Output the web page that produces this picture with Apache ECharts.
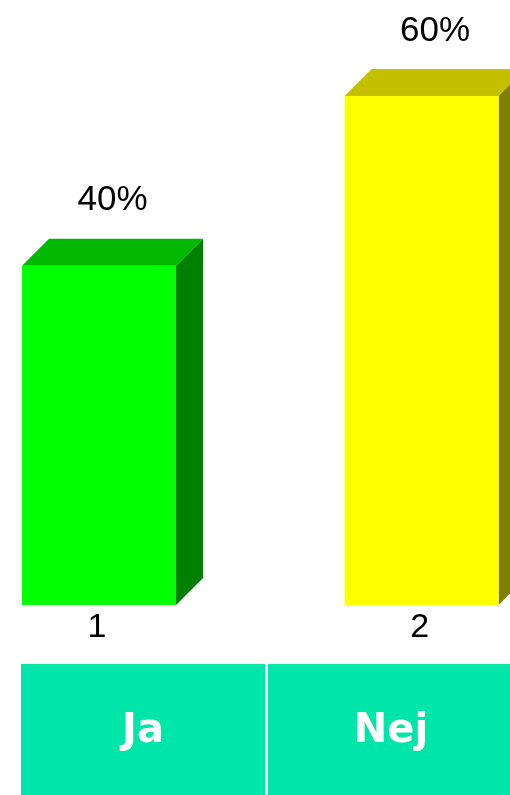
<!DOCTYPE html>
<html>
<head>
<meta charset="utf-8">
<script src="https://cdn.jsdelivr.net/npm/echarts@6/dist/echarts.min.js"></script>
<style>
  html, body { margin: 0; padding: 0; background: #fff; }
  #chart { width: 510px; height: 795px; }
</style>
</head>
<body>
<div id="chart"></div>
<script>
// data
var categories = ['1', '2'];
var values = [40, 60];
var valueLabels = ['40%', '60%'];
var tableLabels = ['Ja', 'Nej'];

// colours of the 3d faces, per bar
var frontColors = ['#00ff00', '#ffff00'];
var topColors = ['#00b800', '#c4c000'];
var sideColors = ['#008000', '#808000'];

var chart = echarts.init(document.getElementById('chart'));

var depth = 27;
var halfW = 77;
var labelFont = 'Liberation Sans, Arial, sans-serif';

var option = {
  backgroundColor: '#fff',
  animation: false,
  grid: { left: 0, right: 0, top: 96, bottom: 190 },
  // category index as a value axis, so the bars can sit off the plot edges
  xAxis: {
    type: 'value',
    min: -0.307,
    max: 1.274,
    show: false
  },
  yAxis: {
    type: 'value',
    min: 0,
    max: 60,
    show: false
  },
  series: [{
    type: 'custom',
    clip: false,
    data: values.map(function (v, i) { return [i, v]; }),
    renderItem: function (params, api) {
      var i = params.dataIndex;
      var c = api.coord([api.value(0), api.value(1)]);
      var b = api.coord([api.value(0), 0]);
      var x0 = c[0] - halfW, x1 = c[0] + halfW, yt = c[1], yb = b[1];
      return {
        type: 'group',
        children: [
          {
            type: 'polygon',
            shape: { points: [[x0, yt], [x0 + depth, yt - depth], [x1 + depth, yt - depth], [x1, yt]] },
            style: { fill: topColors[i] }
          },
          {
            type: 'polygon',
            shape: { points: [[x1, yt], [x1 + depth, yt - depth], [x1 + depth, yb - depth], [x1, yb]] },
            style: { fill: sideColors[i] }
          },
          {
            type: 'rect',
            shape: { x: x0, y: yt, width: x1 - x0, height: yb - yt },
            style: { fill: frontColors[i] }
          },
          {
            type: 'text',
            x: c[0] + depth / 2,
            y: yt - depth - 38,
            style: {
              text: valueLabels[i], fill: '#000', fontSize: 35, fontFamily: labelFont,
              align: 'center', verticalAlign: 'middle'
            }
          },
          {
            type: 'text',
            x: c[0] - 2,
            y: yb + 23,
            style: {
              text: categories[i], fill: '#000', fontSize: 34, fontFamily: labelFont,
              align: 'center', verticalAlign: 'middle'
            }
          }
        ]
      };
    }
  }],
  graphic: [
    { type: 'rect', shape: { x: 21, y: 664, width: 244, height: 131 }, style: { fill: '#00e5aa' } },
    { type: 'rect', shape: { x: 268, y: 664, width: 242, height: 131 }, style: { fill: '#00e5aa' } },
    {
      type: 'text', x: 143, y: 732,
      style: { text: tableLabels[0], fill: '#fff', fontSize: 40, fontWeight: 'bold',
        fontFamily: 'DejaVu Sans, Verdana, sans-serif', align: 'center', verticalAlign: 'middle' }
    },
    {
      type: 'text', x: 391, y: 732,
      style: { text: tableLabels[1], fill: '#fff', fontSize: 40, fontWeight: 'bold',
        fontFamily: 'DejaVu Sans, Verdana, sans-serif', align: 'center', verticalAlign: 'middle' }
    }
  ]
};

chart.setOption(option);
</script>
</body>
</html>
